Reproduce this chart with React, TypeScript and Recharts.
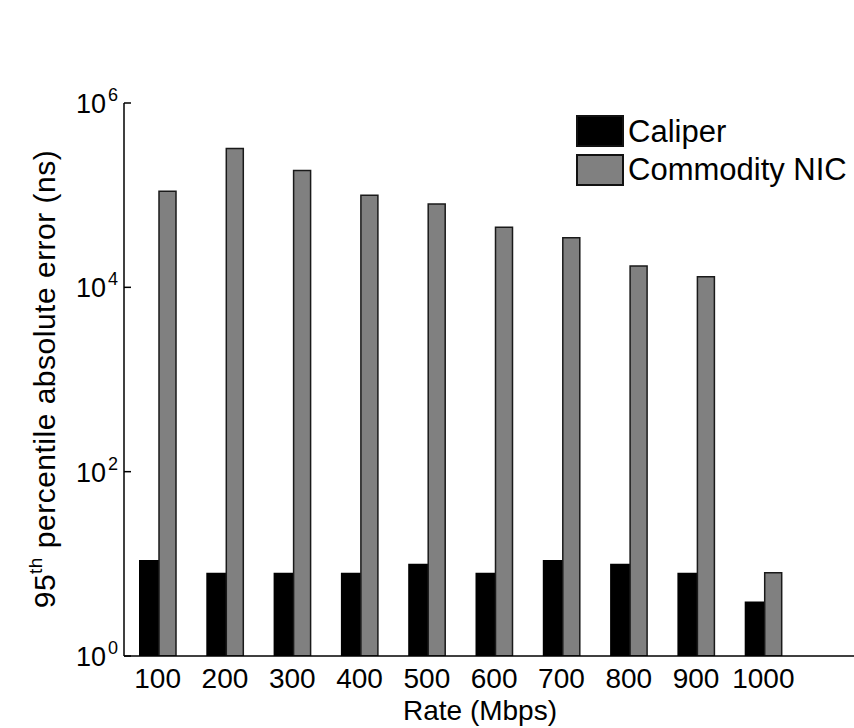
import React from 'react';
import { BarChart, Bar, XAxis, YAxis, Legend, Label } from 'recharts';

const rates = ['100', '200', '300', '400', '500', '600', '700', '800', '900', '1000'];
const caliper = [11, 8, 8, 8, 10, 8, 11, 10, 8, 3.9];
const commodity = [1.1e5, 3.2e5, 1.85e5, 1.0e5, 8.0e4, 4.5e4, 3.45e4, 1.7e4, 1.3e4, 8];
const yTicks = [1, 100, 10000, 1000000];
const seriesNames = ['Caliper', 'Commodity NIC'];

const data = rates.map((r, i) => ({ rate: r, caliper: caliper[i], commodity: commodity[i] }));

const FONT = '"Liberation Sans", Arial, Helvetica, sans-serif';

const YTick = (props: any) => {
  const { x, y, payload } = props;
  const exp = Math.round(Math.log10(payload.value));
  return (
    <g>
      <line x1={x} y1={y} x2={x + 7} y2={y} stroke="#000" strokeWidth={1.5} />
      <text x={x - 6} y={y + 10} textAnchor="end" fontFamily={FONT} fontSize={27} fill="#000">
        <tspan>10</tspan>
        <tspan dy={-12} dx={2} fontSize={18}>{exp}</tspan>
      </text>
    </g>
  );
};

const LegendContent = (props: any) => {
  const { payload } = props;
  return (
    <div style={{ fontFamily: FONT, fontSize: 31, color: '#000' }}>
      {(payload || []).map((p: any, i: number) => (
        <div key={i} style={{ display: 'flex', alignItems: 'center', height: 38.5 }}>
          <div
            style={{
              width: 44,
              height: 28,
              background: p.color,
              border: '2px solid #111',
              marginRight: 4,
            }}
          />
          <span style={{ lineHeight: '31px' }}>{p.value}</span>
        </div>
      ))}
    </div>
  );
};

export default function App() {
  return (
    <div style={{ position: 'absolute', left: 0, top: 0, width: 854, height: 728, background: '#fff' }}>
      <BarChart
        width={854}
        height={728}
        data={data}
        margin={{ top: 103, right: 0, left: 0, bottom: 0 }}
        barGap={0}
      >
        <XAxis
          dataKey="rate"
          height={72}
          padding={{ left: 0, right: 57 }}
          axisLine={{ stroke: '#000', strokeWidth: 1.5 }}
          tickLine={false}
          tickSize={0}
          tickMargin={12}
          tick={{ fill: '#000', fontSize: 28, fontFamily: FONT }}
          interval={0}
        >
          <Label
            content={() => (
              <text x={480} y={720} textAnchor="middle" fontFamily={FONT} fontSize={28} fill="#000">
                Rate (Mbps)
              </text>
            )}
          />
        </XAxis>
        <YAxis
          type="number"
          scale="log"
          domain={[1, 1000000]}
          ticks={yTicks}
          allowDataOverflow
          width={124}
          axisLine={{ stroke: '#000', strokeWidth: 1.5 }}
          tickLine={false}
          tickSize={0}
          tickMargin={0}
          tick={<YTick />}
          interval={0}
        >
          <Label
            content={() => (
              <text
                x={55}
                y={379}
                transform="rotate(-90, 55, 379)"
                textAnchor="middle"
                fontFamily={FONT}
                fontSize={30}
                letterSpacing={0.5}
                fill="#000"
              >
                <tspan>95</tspan>
                <tspan dy={-13} fontSize={19}>th</tspan>
                <tspan dy={13}> percentile absolute error (ns)</tspan>
              </text>
            )}
          />
        </YAxis>
        <Legend
          layout="horizontal"
          verticalAlign="middle"
          align="center"
          wrapperStyle={{ position: 'absolute', left: 576, top: 112, width: 280 }}
          content={<LegendContent />}
        />
        <Bar dataKey="caliper" name={seriesNames[0]} fill="#000" barSize={20} isAnimationActive={false} />
        <Bar
          dataKey="commodity"
          name={seriesNames[1]}
          fill="#808080"
          stroke="#1a1a1a"
          strokeWidth={1.5}
          barSize={17}
          isAnimationActive={false}
        />
      </BarChart>
    </div>
  );
}
